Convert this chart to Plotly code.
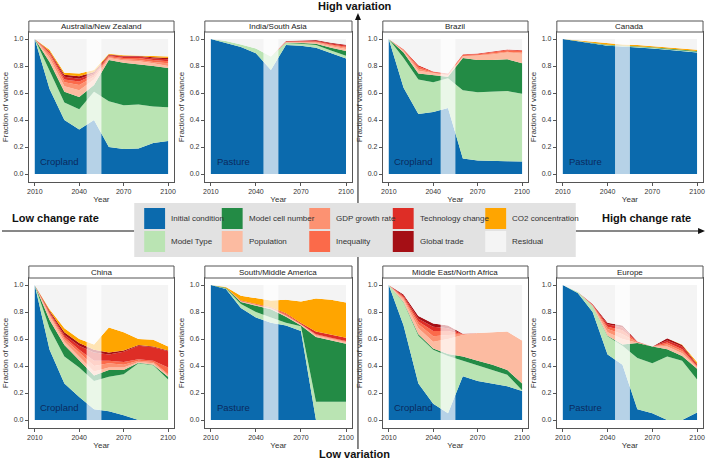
import numpy as np
import plotly.graph_objects as go

W, H = 709, 460
FONT = "Liberation Sans, Arial, sans-serif"

YEARS = [2010, 2020, 2030, 2040, 2050, 2060, 2070, 2080, 2090, 2100]
X_TICKS = [2010, 2040, 2070, 2100]
Y_TICKS = [0.0, 0.2, 0.4, 0.6, 0.8, 1.0]

COMPONENT_KEYS = ["init", "mtype", "cell", "pop", "gdp", "ineq", "tech", "trade", "co2"]
COMPONENT_NAMES = ["Initial condition", "Model Type", "Model cell number", "Population",
                   "GDP growth rate", "Inequality", "Technology change", "Global trade",
                   "CO2 concentration"]
COMPONENT_COLORS = ["#0b6aad", "#bae4b3", "#238b45", "#fcbba1", "#fc9272",
                    "#fb6a4a", "#de2d26", "#a50f15", "#ffa500"]
RESIDUAL_NAME = "Residual"
RESIDUAL_COLOR = "#f4f4f4"

# ---- data: fraction of variance per component ----
anz = {
    "init":  [1.0, 0.63, 0.40, 0.33, 0.40, 0.20, 0.185, 0.19, 0.23, 0.245],
    "mtype": [0.0, 0.13, 0.13, 0.15, 0.21, 0.34, 0.325, 0.325, 0.27, 0.25],
    "cell":  [0.0, 0.07, 0.08, 0.09, 0.05, 0.305, 0.315, 0.30, 0.30, 0.29],
    "pop":   [0.0, 0.03, 0.04, 0.05, 0.04, 0.015, 0.015, 0.02, 0.02, 0.015],
    "gdp":   [0.0, 0.02, 0.03, 0.04, 0.02, 0.005, 0.01, 0.01, 0.01, 0.02],
    "ineq":  [0.0, 0.015, 0.02, 0.025, 0.015, 0.01, 0.01, 0.015, 0.015, 0.015],
    "tech":  [0.0, 0.01, 0.02, 0.02, 0.01, 0.005, 0.01, 0.01, 0.01, 0.015],
    "trade": [0.0, 0.005, 0.015, 0.02, 0.01, 0.005, 0.005, 0.005, 0.01, 0.01],
    "co2":   [0.0, 0.01, 0.015, 0.02, 0.015, 0.005, 0.005, 0.005, 0.01, 0.01],
}
india = {
    "init":  [1.0, 0.97, 0.94, 0.895, 0.77, 0.955, 0.95, 0.935, 0.895, 0.856],
    "mtype": [0.0, 0.015, 0.02, 0.035, 0.10, 0.015, 0.015, 0.02, 0.02, 0.02],
    "cell":  [0.0, 0.0, 0.0, 0.0, 0.0, 0.003, 0.005, 0.01, 0.02, 0.035],
    "pop":   [0.0, 0.0, 0.0, 0.0, 0.0, 0.003, 0.005, 0.008, 0.012, 0.015],
    "gdp":   [0.0, 0.0, 0.0, 0.0, 0.0, 0.002, 0.003, 0.005, 0.007, 0.01],
    "ineq":  [0.0, 0.0, 0.0, 0.0, 0.0, 0.002, 0.003, 0.004, 0.005, 0.006],
    "tech":  [0.0, 0.0, 0.0, 0.0, 0.0, 0.003, 0.005, 0.006, 0.008, 0.01],
    "trade": [0.0, 0.0, 0.0, 0.0, 0.0, 0.002, 0.003, 0.004, 0.005, 0.005],
    "co2":   [0.0, 0.0, 0.0, 0.0, 0.0, 0.0, 0.0, 0.0, 0.0, 0.0],
}
brazil = {
    "init":  [1.0, 0.64, 0.445, 0.46, 0.49, 0.115, 0.10, 0.10, 0.095, 0.093],
    "mtype": [0.0, 0.22, 0.255, 0.22, 0.22, 0.505, 0.505, 0.51, 0.52, 0.502],
    "cell":  [0.0, 0.04, 0.045, 0.055, 0.01, 0.24, 0.24, 0.235, 0.235, 0.225],
    "pop":   [0.0, 0.01, 0.02, 0.01, 0.01, 0.01, 0.03, 0.04, 0.05, 0.07],
    "gdp":   [0.0, 0.005, 0.015, 0.005, 0.005, 0.005, 0.005, 0.005, 0.005, 0.01],
    "ineq":  [0.0, 0.005, 0.015, 0.005, 0.005, 0.008, 0.008, 0.01, 0.012, 0.012],
    "tech":  [0.0, 0.005, 0.01, 0.005, 0.005, 0.005, 0.005, 0.005, 0.005, 0.005],
    "trade": [0.0, 0.0, 0.0, 0.0, 0.0, 0.0, 0.0, 0.0, 0.0, 0.0],
    "co2":   [0.0, 0.0, 0.0, 0.0, 0.0, 0.0, 0.0, 0.0, 0.0, 0.0],
}
canada = {
    "init":  [1.0, 0.985, 0.965, 0.95, 0.945, 0.94, 0.93, 0.92, 0.91, 0.90],
    "mtype": [0.0, 0.002, 0.003, 0.004, 0.004, 0.004, 0.005, 0.005, 0.005, 0.005],
    "cell":  [0.0, 0.0, 0.002, 0.003, 0.003, 0.003, 0.004, 0.004, 0.005, 0.006],
    "pop":   [0.0, 0.0, 0.0, 0.0, 0.0, 0.0, 0.0, 0.0, 0.0, 0.0],
    "gdp":   [0.0, 0.0, 0.0, 0.0, 0.0, 0.0, 0.0, 0.0, 0.0, 0.0],
    "ineq":  [0.0, 0.0, 0.0, 0.0, 0.0, 0.0, 0.0, 0.0, 0.0, 0.0],
    "tech":  [0.0, 0.0, 0.0, 0.0, 0.0, 0.0, 0.0, 0.0, 0.0, 0.0],
    "trade": [0.0, 0.0, 0.0, 0.0, 0.0, 0.0, 0.0, 0.0, 0.0, 0.0],
    "co2":   [0.0, 0.003, 0.006, 0.008, 0.008, 0.008, 0.008, 0.008, 0.009, 0.01],
}
china = {
    "init":  [1.0, 0.52, 0.27, 0.17, 0.08, 0.065, 0.035, 0.0, 0.0, 0.0],
    "mtype": [0.0, 0.16, 0.20, 0.22, 0.21, 0.255, 0.305, 0.42, 0.405, 0.30],
    "cell":  [0.0, 0.06, 0.085, 0.05, 0.04, 0.05, 0.03, 0.005, 0.005, 0.02],
    "pop":   [0.0, 0.03, 0.025, 0.03, 0.03, 0.02, 0.02, 0.005, 0.01, 0.01],
    "gdp":   [0.0, 0.01, 0.02, 0.03, 0.04, 0.03, 0.02, 0.01, 0.01, 0.01],
    "ineq":  [0.0, 0.01, 0.015, 0.02, 0.04, 0.02, 0.02, 0.01, 0.01, 0.05],
    "tech":  [0.0, 0.01, 0.015, 0.03, 0.06, 0.045, 0.075, 0.10, 0.10, 0.12],
    "trade": [0.0, 0.01, 0.02, 0.02, 0.02, 0.015, 0.01, 0.005, 0.005, 0.005],
    "co2":   [0.0, 0.01, 0.03, 0.03, 0.04, 0.185, 0.135, 0.045, 0.05, 0.03],
}
sma = {
    "init":  [1.0, 0.97, 0.83, 0.76, 0.72, 0.70, 0.66, 0.0, 0.0, 0.0],
    "mtype": [0.0, 0.005, 0.03, 0.04, 0.04, 0.02, 0.035, 0.135, 0.135, 0.135],
    "cell":  [0.0, 0.005, 0.015, 0.045, 0.06, 0.045, 0.005, 0.48, 0.455, 0.43],
    "pop":   [0.0, 0.0, 0.003, 0.005, 0.005, 0.005, 0.005, 0.01, 0.01, 0.01],
    "gdp":   [0.0, 0.0, 0.002, 0.003, 0.003, 0.005, 0.003, 0.005, 0.005, 0.005],
    "ineq":  [0.0, 0.0, 0.002, 0.003, 0.004, 0.01, 0.005, 0.005, 0.005, 0.005],
    "tech":  [0.0, 0.0, 0.003, 0.004, 0.004, 0.005, 0.005, 0.02, 0.025, 0.025],
    "trade": [0.0, 0.0, 0.0, 0.0, 0.0, 0.0, 0.0, 0.0, 0.0, 0.0],
    "co2":   [0.0, 0.005, 0.035, 0.045, 0.05, 0.10, 0.16, 0.245, 0.255, 0.26],
}
mena = {
    "init":  [1.0, 0.70, 0.27, 0.12, 0.05, 0.325, 0.29, 0.27, 0.25, 0.215],
    "mtype": [0.0, 0.17, 0.355, 0.40, 0.425, 0.115, 0.11, 0.10, 0.085, 0.005],
    "cell":  [0.0, 0.005, 0.01, 0.01, 0.015, 0.03, 0.04, 0.04, 0.035, 0.05],
    "pop":   [0.0, 0.015, 0.045, 0.05, 0.11, 0.16, 0.205, 0.24, 0.285, 0.32],
    "gdp":   [0.0, 0.01, 0.03, 0.04, 0.03, 0.003, 0.0, 0.0, 0.0, 0.0],
    "ineq":  [0.0, 0.01, 0.02, 0.04, 0.03, 0.002, 0.0, 0.0, 0.0, 0.0],
    "tech":  [0.0, 0.01, 0.02, 0.03, 0.02, 0.002, 0.0, 0.0, 0.0, 0.0],
    "trade": [0.0, 0.01, 0.02, 0.025, 0.02, 0.003, 0.0, 0.0, 0.0, 0.0],
    "co2":   [0.0, 0.0, 0.0, 0.0, 0.0, 0.0, 0.0, 0.0, 0.0, 0.0],
}
europe = {
    "init":  [1.0, 0.94, 0.80, 0.485, 0.41, 0.08, 0.05, 0.0, 0.0, 0.055],
    "mtype": [0.0, 0.01, 0.04, 0.135, 0.14, 0.38, 0.37, 0.47, 0.44, 0.245],
    "cell":  [0.0, 0.0, 0.003, 0.005, 0.01, 0.11, 0.125, 0.055, 0.035, 0.08],
    "pop":   [0.0, 0.0, 0.003, 0.025, 0.04, 0.003, 0.0, 0.02, 0.02, 0.01],
    "gdp":   [0.0, 0.0, 0.003, 0.025, 0.035, 0.003, 0.0, 0.015, 0.015, 0.005],
    "ineq":  [0.0, 0.0, 0.003, 0.015, 0.03, 0.002, 0.0, 0.015, 0.015, 0.005],
    "tech":  [0.0, 0.0, 0.004, 0.02, 0.02, 0.002, 0.0, 0.015, 0.02, 0.01],
    "trade": [0.0, 0.0, 0.003, 0.01, 0.015, 0.002, 0.0, 0.015, 0.01, 0.005],
    "co2":   [0.0, 0.0, 0.0, 0.0, 0.0, 0.0, 0.0, 0.0, 0.005, 0.015],
}

REGION_NAMES = ["Australia/New Zealand", "India/South Asia", "Brazil", "Canada",
                "China", "South/Middle America", "Middle East/North Africa", "Europe"]
LAND_TYPES = ["Cropland", "Pasture", "Cropland", "Pasture",
              "Cropland", "Pasture", "Cropland", "Pasture"]
REGION_DATA = [anz, india, brazil, canada, china, sma, mena, europe]

TRANSITION_BAND = (2045, 2055)

# ---- layout geometry (pixels) ----
COLS = [(27, 173), (204, 352), (383, 529), (558, 705)]
ROWS = [(21, 32, 182), (266, 278, 428)]  # strip top, plot top, plot bottom
X_RANGE = [2006, 2104]
Y_RANGE = [-0.059, 1.052]
FRAME = "#555555"


def px(x):
    return x / W


def py(y):
    return 1 - y / H


fig = go.Figure()
shapes = []
annotations = []

for k, (region, land, data) in enumerate(zip(REGION_NAMES, LAND_TYPES, REGION_DATA)):
    i = k + 1
    row, col = divmod(k, 4)
    x0p, x1p = COLS[col]
    st, pt, pb = ROWS[row]
    xa, ya = f"x{i}", f"y{i}"
    xkey = "xaxis" if i == 1 else f"xaxis{i}"
    ykey = "yaxis" if i == 1 else f"yaxis{i}"

    total = np.zeros(len(YEARS))
    for key, name, color in zip(COMPONENT_KEYS, COMPONENT_NAMES, COMPONENT_COLORS):
        vals = np.array(data[key], dtype=float)
        total += vals
        fig.add_trace(go.Scatter(
            x=YEARS, y=vals, name=name, stackgroup=f"s{i}", mode="lines",
            line=dict(width=0), fillcolor=color, showlegend=False,
            hoverinfo="skip", xaxis=xa, yaxis=ya))
    residual = np.clip(1.0 - total, 0, None)
    fig.add_trace(go.Scatter(
        x=YEARS, y=residual, name=RESIDUAL_NAME, stackgroup=f"s{i}", mode="lines",
        line=dict(width=0), fillcolor=RESIDUAL_COLOR, showlegend=False,
        hoverinfo="skip", xaxis=xa, yaxis=ya))

    axis_font = dict(family=FONT, size=7, color="#333333")
    fig.layout[xkey] = dict(
        domain=[px(x0p), px(x1p)], anchor=ya, range=X_RANGE,
        tickvals=X_TICKS, ticks="outside", ticklen=3, tickcolor=FRAME, tickwidth=1,
        showline=True, mirror=True, linecolor=FRAME, linewidth=1,
        showgrid=False, zeroline=False, tickfont=axis_font,
        title=dict(text="Year", font=dict(family=FONT, size=8, color="#333333"), standoff=1),
        fixedrange=True)
    fig.layout[ykey] = dict(
        domain=[py(pb), py(pt)], anchor=xa, range=Y_RANGE,
        tickvals=Y_TICKS, tickformat=".1f", ticks="outside", ticklen=3,
        tickcolor=FRAME, tickwidth=1,
        showline=True, mirror=True, linecolor=FRAME, linewidth=1,
        showgrid=False, zeroline=False, tickfont=axis_font,
        title=dict(text="Fraction of variance", font=dict(family=FONT, size=8, color="#333333"),
                   standoff=3),
        fixedrange=True)

    # faded transition band
    shapes.append(dict(type="rect", xref=xa, yref=ya, x0=TRANSITION_BAND[0],
                       x1=TRANSITION_BAND[1], y0=0, y1=1, layer="above",
                       fillcolor="rgba(255,255,255,0.7)", line=dict(width=0)))
    # strip header
    shapes.append(dict(type="rect", xref="paper", yref="paper", x0=px(x0p), x1=px(x1p),
                       y0=py(pt), y1=py(st), fillcolor="white",
                       line=dict(color=FRAME, width=1), layer="above"))
    annotations.append(dict(xref="paper", yref="paper", x=px((x0p + x1p) / 2),
                            y=py((st + pt) / 2), text=region, showarrow=False,
                            font=dict(family=FONT, size=8, color="#222222"),
                            xanchor="center", yanchor="middle"))
    annotations.append(dict(xref=xa, yref=ya, x=2012.5, y=0.09, text=land, showarrow=False,
                            xanchor="left", yanchor="middle",
                            font=dict(family=FONT, size=9.5, color="#0a2a5e")))

# ---- central arrows ----
AX_Y = 231
AX_X = 358
BOX = (133, 203, 577, 257)
line_style = dict(color="#111111", width=1)
shapes += [
    dict(type="line", xref="paper", yref="paper", x0=px(0), x1=px(BOX[0]),
         y0=py(AX_Y), y1=py(AX_Y), line=line_style),
    dict(type="line", xref="paper", yref="paper", x0=px(BOX[2]), x1=px(701),
         y0=py(AX_Y), y1=py(AX_Y), line=line_style),
    dict(type="path", xref="paper", yref="paper",
         path=f"M {px(700)},{py(AX_Y-3)} L {px(707)},{py(AX_Y)} L {px(700)},{py(AX_Y+3)} Z",
         fillcolor="#111111", line=dict(width=0)),
    dict(type="line", xref="paper", yref="paper", x0=px(AX_X), x1=px(AX_X),
         y0=py(19), y1=py(BOX[1]), line=line_style),
    dict(type="line", xref="paper", yref="paper", x0=px(AX_X), x1=px(AX_X),
         y0=py(BOX[3]), y1=py(449), line=line_style),
    dict(type="path", xref="paper", yref="paper",
         path=f"M {px(AX_X-3)},{py(20)} L {px(AX_X)},{py(13)} L {px(AX_X+3)},{py(20)} Z",
         fillcolor="#111111", line=dict(width=0)),
]
big_font = dict(family=FONT, size=11, color="#111111")
annotations += [
    dict(xref="paper", yref="paper", x=px(355), y=py(6), text="<b>High variation</b>",
         showarrow=False, font=big_font, xanchor="center", yanchor="middle"),
    dict(xref="paper", yref="paper", x=px(354), y=py(454), text="<b>Low variation</b>",
         showarrow=False, font=big_font, xanchor="center", yanchor="middle"),
    dict(xref="paper", yref="paper", x=px(8), y=py(218), text="<b>Low change rate</b>",
         showarrow=False, font=big_font, xanchor="left", yanchor="middle"),
    dict(xref="paper", yref="paper", x=px(695), y=py(218), text="<b>High change rate</b>",
         showarrow=False, font=big_font, xanchor="right", yanchor="middle"),
]

# ---- legend box ----
shapes.append(dict(type="rect", xref="paper", yref="paper", x0=px(BOX[0]), x1=px(BOX[2]),
                   y0=py(BOX[3]), y1=py(BOX[1]), fillcolor="#e2e2e2",
                   line=dict(width=0), layer="above"))
legend_names = COMPONENT_NAMES + [RESIDUAL_NAME]
legend_colors = COMPONENT_COLORS + [RESIDUAL_COLOR]
col_x = [143, 221, 309, 393, 486]
row_y = [208, 231]
SQ = 21
for idx, (name, color) in enumerate(zip(legend_names, legend_colors)):
    c, r = divmod(idx, 2)
    lx, ly = col_x[c], row_y[r]
    shapes.append(dict(type="rect", xref="paper", yref="paper", x0=px(lx), x1=px(lx + SQ),
                       y0=py(ly + SQ), y1=py(ly), fillcolor=color, line=dict(width=0),
                       layer="above"))
    annotations.append(dict(xref="paper", yref="paper", x=px(lx + SQ + 4), y=py(ly + SQ / 2),
                            text=name, showarrow=False, xanchor="left", yanchor="middle",
                            font=dict(family=FONT, size=8, color="#333333")))

fig.update_layout(
    width=W, height=H, margin=dict(l=0, r=0, t=0, b=0),
    paper_bgcolor="white", plot_bgcolor="white",
    showlegend=False, shapes=shapes, annotations=annotations,
    font=dict(family=FONT),
)

fig.write_html(
    "out.html",
    config={"displayModeBar": False},
    post_script="document.body.style.margin='0';document.body.style.overflow='hidden';",
)
